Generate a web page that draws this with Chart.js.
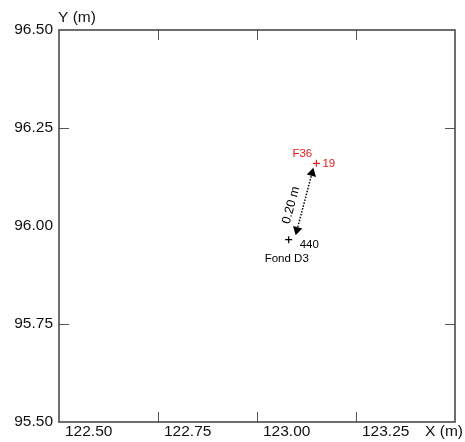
<!DOCTYPE html>
<html>
<head>
<meta charset="utf-8">
<script src="https://cdn.jsdelivr.net/npm/chart.js@4"></script>
<style>
  html, body { margin: 0; padding: 0; background: #fff; }
  #wrap { width: 465px; height: 442px; }
</style>
</head>
<body>
<div id="wrap"><canvas id="c" width="465" height="442"></canvas></div>
<script>
// === Data ===
const pointNames = ['19', '440'];
const pointTags = ['F36', 'Fond D3'];
const pointX = [123.15, 123.08];
const pointY = [96.16, 95.965];
const pointColors = ['#e0201b', '#000000'];

// arrow from Fond D3 towards F36
const arrowX = [123.101, 123.139];
const arrowY = [95.99, 96.135];
const arrowText = '0.20 m';

const xMin = 122.5, xMax = 123.5;
const yMin = 95.5, yMax = 96.5;
const tickStep = 0.25;
const xTickMarks = [122.75, 123.0, 123.25];
const yTickMarks = [95.75, 96.25];

const FONT = 'Arial, "Liberation Sans", sans-serif';

// === Frame, inner ticks and labels ===
const framePlugin = {
  id: 'frame',
  afterDraw(chart) {
    const ctx = chart.ctx;
    const a = chart.chartArea;
    const xs = chart.scales.x, ys = chart.scales.y;
    ctx.save();

    // inner tick marks on all four sides
    ctx.strokeStyle = '#555';
    ctx.lineWidth = 1;
    ctx.beginPath();
    xTickMarks.forEach(v => {
      const px = Math.round(xs.getPixelForValue(v)) + 0.5;
      ctx.moveTo(px, a.bottom); ctx.lineTo(px, a.bottom - 10);
      ctx.moveTo(px, a.top); ctx.lineTo(px, a.top + 10);
    });
    yTickMarks.forEach(v => {
      const py = Math.round(ys.getPixelForValue(v)) + 0.5;
      ctx.moveTo(a.left, py); ctx.lineTo(a.left + 10, py);
      ctx.moveTo(a.right, py); ctx.lineTo(a.right - 10, py);
    });
    ctx.stroke();

    // box
    ctx.strokeStyle = '#4a4a4a';
    ctx.lineWidth = 1.6;
    ctx.strokeRect(a.left, a.top, a.right - a.left, a.bottom - a.top);

    // axis names
    ctx.fillStyle = '#111';
    ctx.font = '15.5px ' + FONT;
    ctx.textBaseline = 'alphabetic';
    ctx.textAlign = 'left';
    ctx.fillText('Y (m)', a.left - 1, a.top - 8);
    ctx.textAlign = 'right';
    ctx.fillText('X (m)', chart.width - 2, a.bottom + 14);

    // point labels
    const meta = chart.getDatasetMeta(0);
    ctx.font = '11.5px ' + FONT;
    meta.data.forEach((el, i) => {
      ctx.fillStyle = pointColors[i];
      ctx.textAlign = 'left';
      if (i === 0) {
        ctx.fillText(pointNames[i], el.x + 6, el.y + 4);
        ctx.fillText(pointTags[i], el.x - 24, el.y - 6);
      } else {
        ctx.fillText(pointNames[i], el.x + 11, el.y + 8);
        ctx.fillText(pointTags[i], el.x - 24, el.y + 22);
      }
    });

    // arrow label along the arrow
    const am = chart.getDatasetMeta(1).data;
    const p1 = am[0], p2 = am[1];
    const ang = Math.atan2(p2.y - p1.y, p2.x - p1.x);
    ctx.translate((p1.x + p2.x) / 2, (p1.y + p2.y) / 2);
    ctx.rotate(ang);
    ctx.fillStyle = '#000';
    ctx.font = '12.5px ' + FONT;
    ctx.textAlign = 'center';
    ctx.textBaseline = 'middle';
    ctx.fillText(arrowText, -7, -12);
    ctx.restore();
  }
};

// === Chart ===
new Chart(document.getElementById('c'), {
  type: 'scatter',
  data: {
    datasets: [
      {
        data: pointX.map((x, i) => ({ x, y: pointY[i] })),
        pointStyle: 'cross',
        pointRadius: 3.5,
        borderWidth: 1.2,
        borderColor: pointColors,
        showLine: false
      },
      {
        data: arrowX.map((x, i) => ({ x, y: arrowY[i] })),
        showLine: true,
        borderColor: '#000',
        borderWidth: 1.5,
        borderDash: [1.5, 1.5],
        pointStyle: 'triangle',
        pointRadius: 5.5,
        pointBackgroundColor: '#000',
        pointBorderColor: '#000',
        pointBorderWidth: 0,
        rotation: [194, 14]
      }
    ]
  },
  options: {
    responsive: false,
    animation: false,
    layout: { padding: { left: 0, top: 30, right: 10, bottom: 0 } },
    plugins: {
      legend: { display: false },
      tooltip: { enabled: false }
    },
    scales: {
      x: {
        type: 'linear',
        min: xMin, max: xMax,
        grid: { display: false, drawTicks: false },
        border: { display: false },
        afterFit: s => { s.height = 20; },
        ticks: {
          stepSize: tickStep,
          align: 'start',
          labelOffset: 6,
          padding: 0,
          maxRotation: 0,
          color: '#111',
          font: { family: FONT, size: 15.5 },
          callback: (v, i, t) => i === t.length - 1 ? '' : Number(v).toFixed(2)
        }
      },
      y: {
        type: 'linear',
        min: yMin, max: yMax,
        grid: { display: false, drawTicks: false },
        border: { display: false },
        afterFit: s => { s.width = 59; },
        ticks: {
          stepSize: tickStep,
          padding: 6,
          color: '#111',
          font: { family: FONT, size: 15.5 },
          callback: v => Number(v).toFixed(2)
        }
      }
    }
  },
  plugins: [framePlugin]
});
</script>
</body>
</html>
